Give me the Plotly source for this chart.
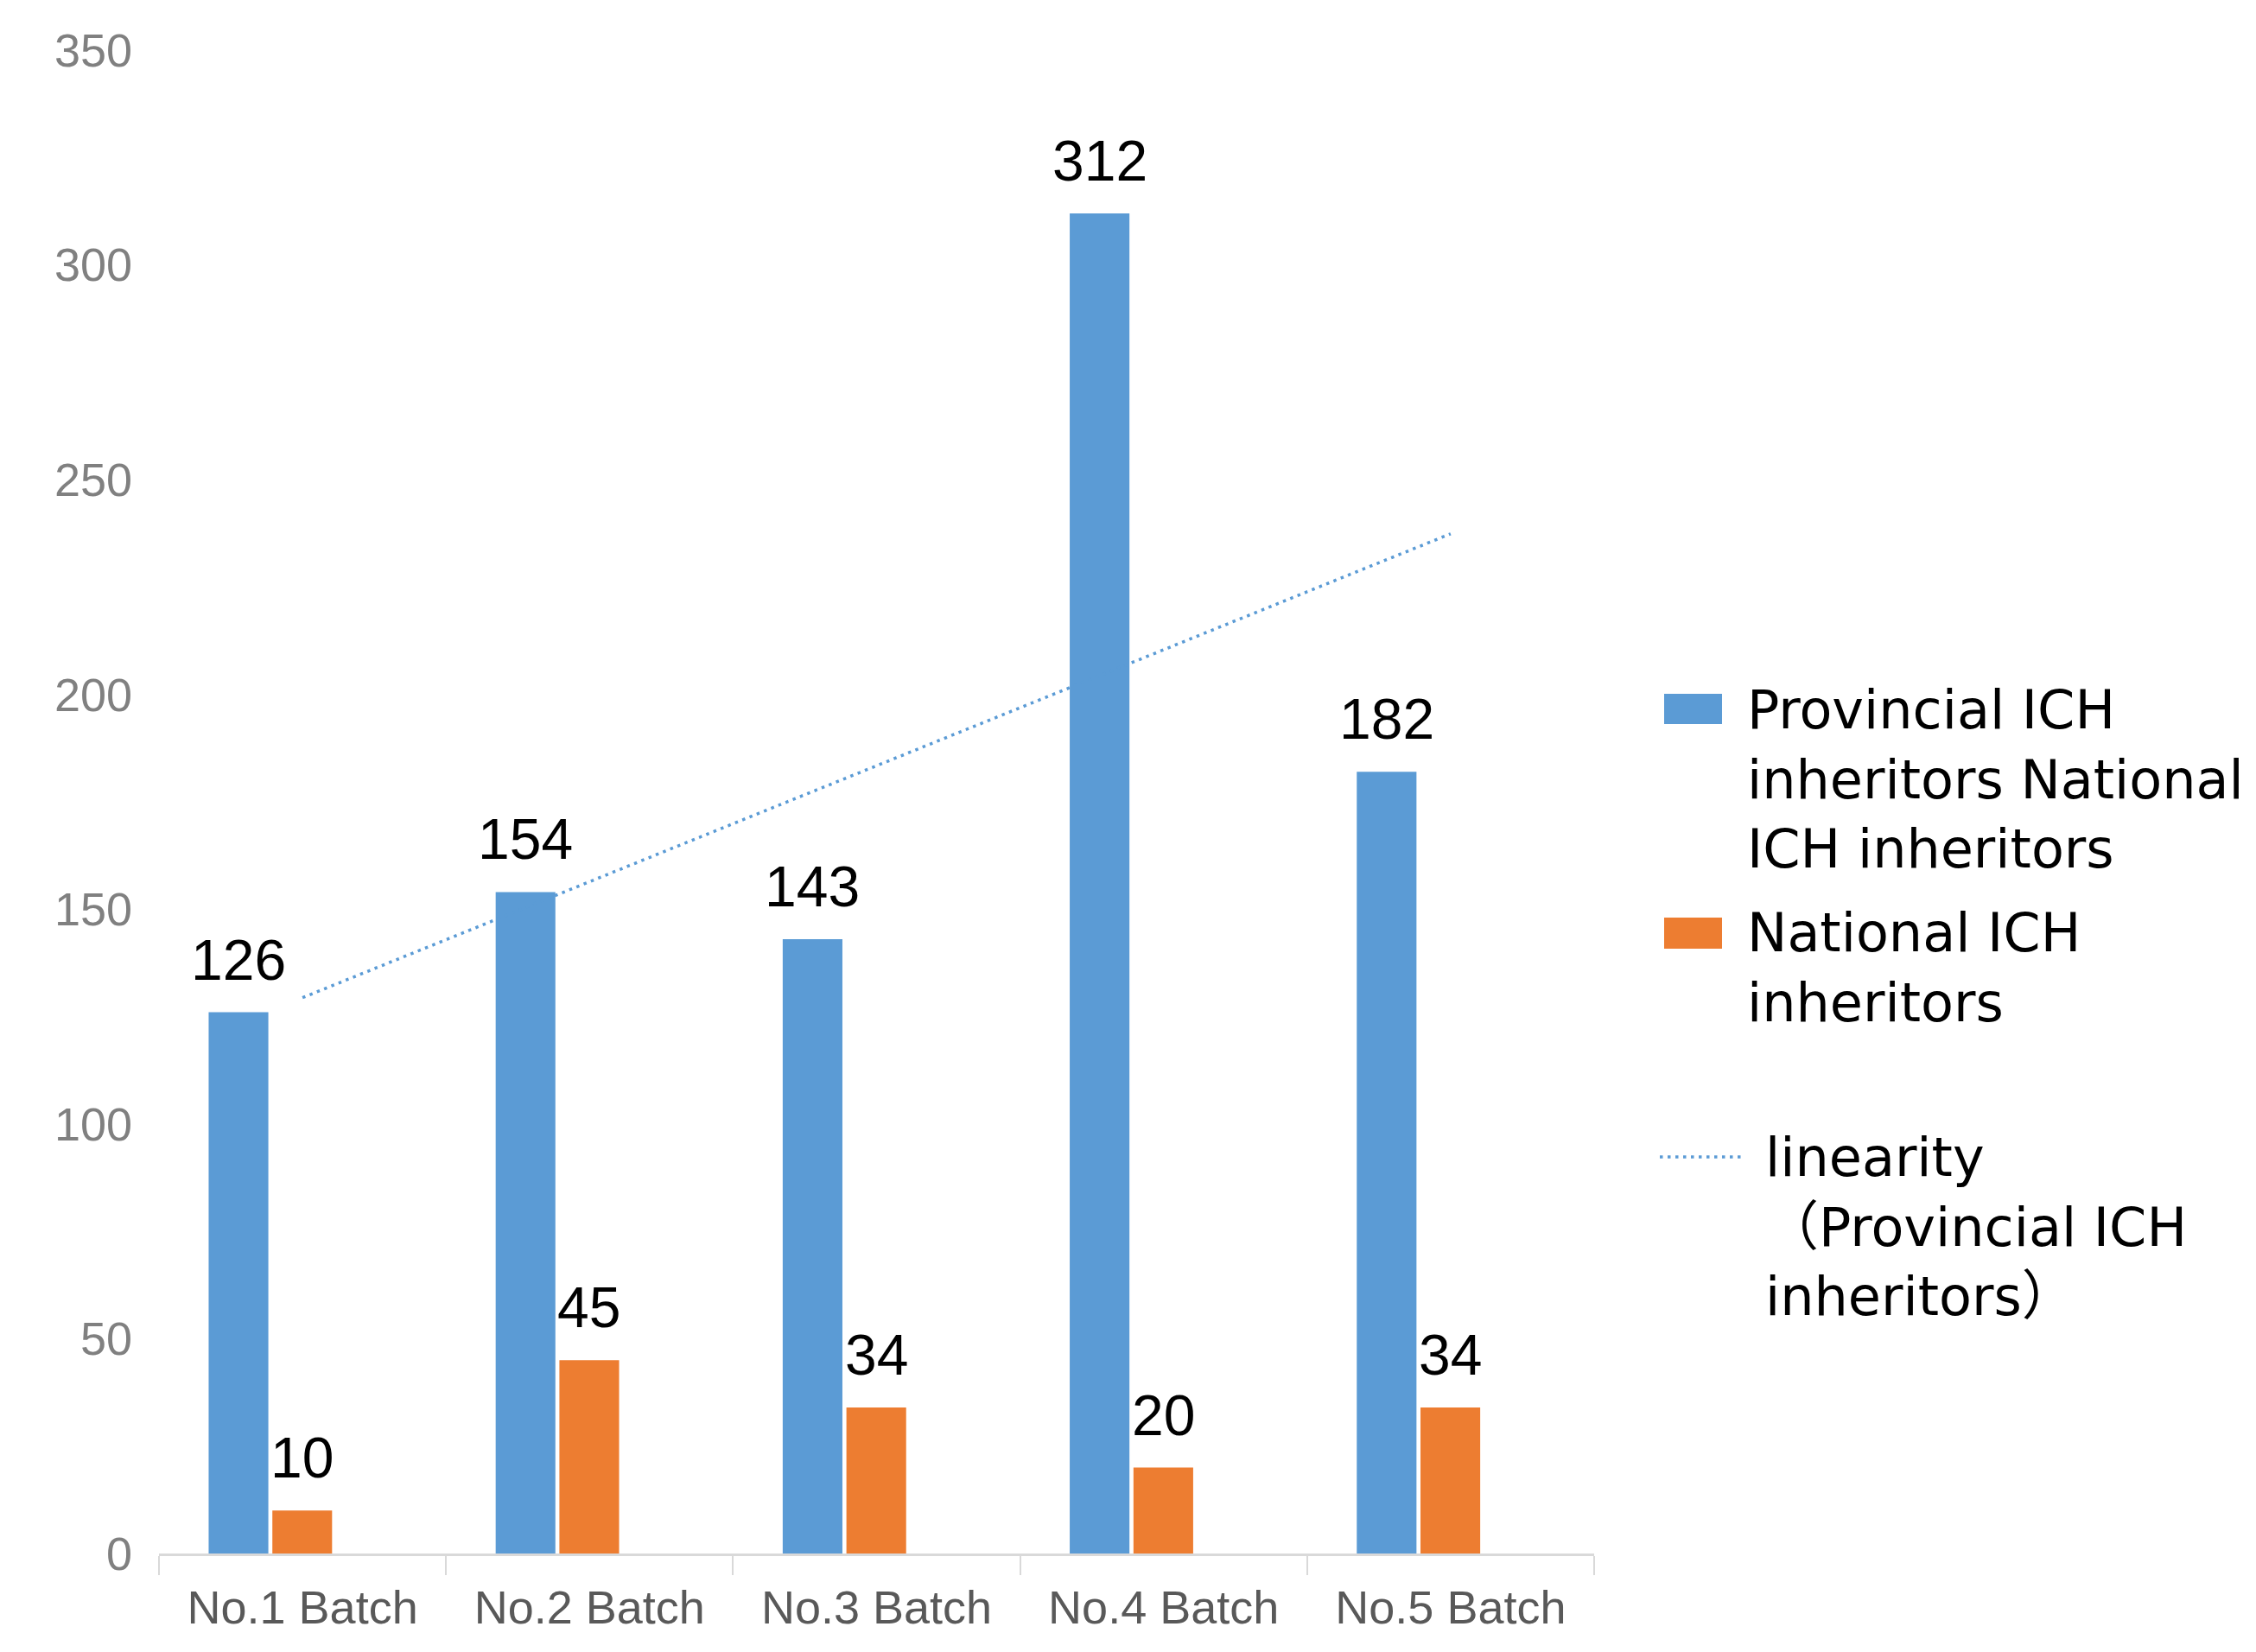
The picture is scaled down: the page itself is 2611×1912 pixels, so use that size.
import numpy as np
import plotly.graph_objects as go

# ---------------- data ----------------
categories = ["No.1 Batch", "No.2 Batch", "No.3 Batch", "No.4 Batch", "No.5 Batch"]
provincial = [126, 154, 143, 312, 182]
national = [10, 45, 34, 20, 34]
y_ticks = [0, 50, 100, 150, 200, 250, 300, 350]

legend_labels = [
    "Provincial ICH<br>inheritors National<br>ICH inheritors",
    "National ICH<br>inheritors",
    "linearity<br>（Provincial ICH<br>inheritors）",
]

# ---------------- style ----------------
BLUE = "#5B9BD5"
ORANGE = "#ED7D31"
FONT = "Liberation Sans, Arial, Noto Sans CJK SC, sans-serif"
LEG_FONT = "DejaVu Sans, Noto Sans CJK SC, sans-serif"
W, H = 2611, 1912
L, R, T, B = 184, 766, 58, 114
BAR_W = 0.208
OFF_BLUE = -0.327
OFF_ORANGE = -0.105
DOT = "3.5px,5.5px"

# linear trendline of provincial series (least squares)
idx = np.arange(len(categories))
slope, intercept = np.polyfit(idx, provincial, 1)
trend = slope * idx + intercept

fig = go.Figure()
fig.add_trace(go.Bar(x=categories, y=provincial, marker=dict(color=BLUE, line=dict(width=0)),
                     width=BAR_W, offset=OFF_BLUE, showlegend=False, name="Provincial ICH inheritors"))
fig.add_trace(go.Bar(x=categories, y=national, marker=dict(color=ORANGE, line=dict(width=0)),
                     width=BAR_W, offset=OFF_ORANGE, showlegend=False, name="National ICH inheritors"))
fig.add_trace(go.Scatter(x=categories, y=trend, mode="lines",
                         line=dict(color=BLUE, width=3.5, dash=DOT),
                         showlegend=False, name="linearity"))

annotations = []
for i, v in enumerate(provincial):
    annotations.append(dict(x=i + OFF_BLUE + BAR_W / 2, y=v, xref="x", yref="y", text=str(v),
                            showarrow=False, yanchor="bottom", yshift=22,
                            font=dict(family=FONT, size=66, color="#000000")))
for i, v in enumerate(national):
    annotations.append(dict(x=i + OFF_ORANGE + BAR_W / 2, y=v, xref="x", yref="y", text=str(v),
                            showarrow=False, yanchor="bottom", yshift=22,
                            font=dict(family=FONT, size=66, color="#000000")))


def px_x(px):
    return (px - L) / (W - L - R)


def px_y(py):
    return (H - B - py) / (H - T - B)


# manual legend
shapes = [
    dict(type="rect", xref="paper", yref="paper", x0=px_x(1926), x1=px_x(1993),
         y0=px_y(838), y1=px_y(803), fillcolor=BLUE, line=dict(width=0)),
    dict(type="rect", xref="paper", yref="paper", x0=px_x(1926), x1=px_x(1993),
         y0=px_y(1098), y1=px_y(1062), fillcolor=ORANGE, line=dict(width=0)),
    dict(type="line", xref="paper", yref="paper", x0=px_x(1921), x1=px_x(2015),
         y0=px_y(1339), y1=px_y(1339), line=dict(color=BLUE, width=3.5, dash=DOT)),
]
legend_pos = [(2020, 783), (2020, 1041), (2041, 1301)]
for (lx, ly), txt in zip(legend_pos, legend_labels):
    annotations.append(dict(x=px_x(lx), y=px_y(ly), xref="paper", yref="paper", text=txt,
                            showarrow=False, xanchor="left", yanchor="top", align="left",
                            font=dict(family=LEG_FONT, size=62, color="#000000")))

fig.update_layout(
    width=W, height=H, autosize=False,
    margin=dict(l=L, r=R, t=T, b=B, pad=0),
    paper_bgcolor="white", plot_bgcolor="white",
    barmode="overlay",
    showlegend=False,
    font=dict(family=FONT),
    annotations=annotations,
    shapes=shapes,
    xaxis=dict(type="category", range=[-0.5, 4.5], showline=True, linecolor="#D9D9D9", linewidth=3,
               ticks="outside", tickson="boundaries", ticklen=22, tickwidth=2, tickcolor="#D9D9D9",
               tickfont=dict(family=FONT, size=54, color="#595959"), showgrid=False, zeroline=False,
               ticklabelstandoff=13),
    yaxis=dict(range=[0, 350], tickvals=y_ticks, showgrid=False, zeroline=False, showline=False,
               ticks="", tickfont=dict(family=FONT, size=54, color="#808080"), ticklabelstandoff=30),
)

fig.write_html("out.html", config={"displayModeBar": False},
               post_script="document.body.style.margin='0';document.body.style.overflow='hidden';")
